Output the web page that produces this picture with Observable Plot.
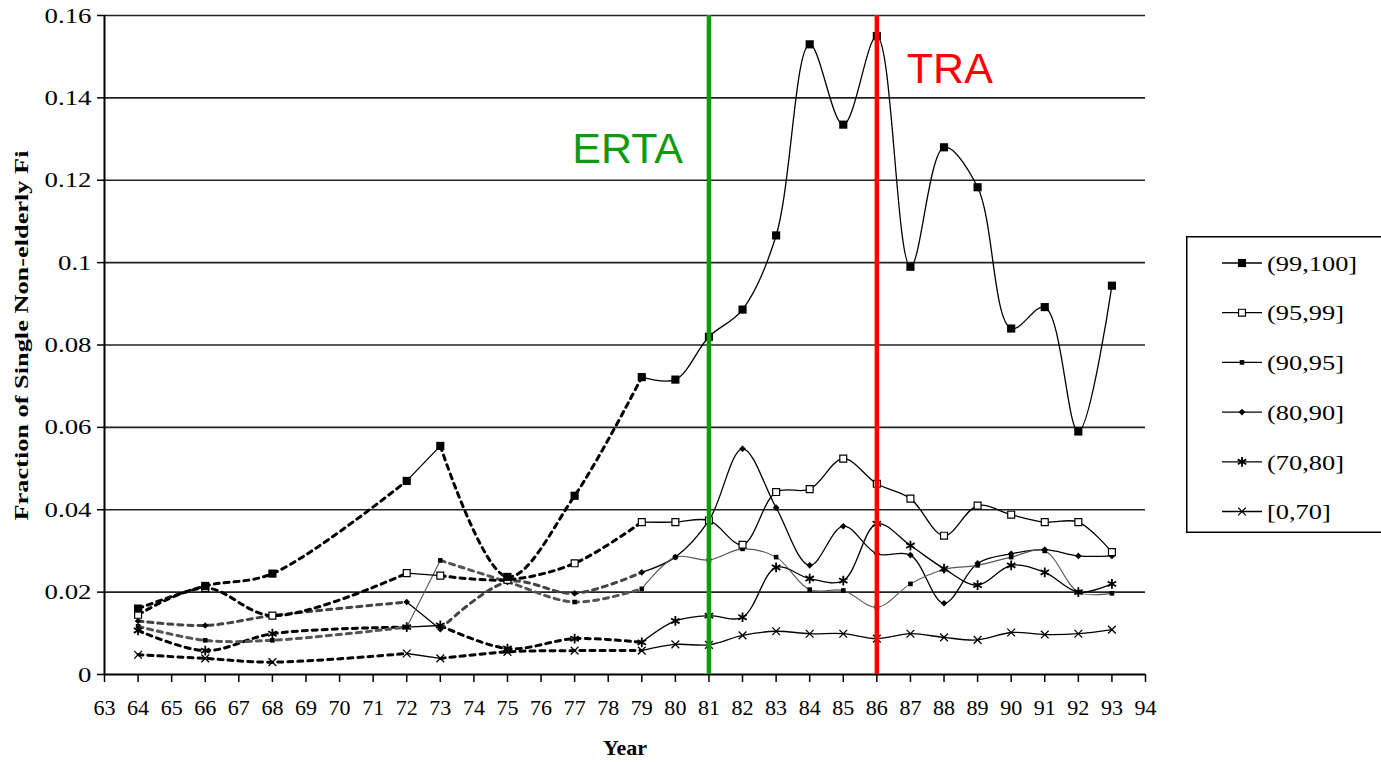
<!DOCTYPE html>
<html><head><meta charset="utf-8">
<script src="https://cdn.jsdelivr.net/npm/d3@7"></script>
<script src="https://cdn.jsdelivr.net/npm/@observablehq/plot@0.6"></script>
<style>
html,body{margin:0;padding:0;background:#fff;}
#wrap{position:relative;width:1381px;height:762px;overflow:hidden;}
#legend{position:absolute;left:1186px;top:236px;}
</style></head><body><div id="wrap"><div id="chart"></div><div id="legend"></div></div>
<script>
// ---------- data ----------
const years = [64,66,68,72,73,75,77,79,80,81,82,83,84,85,86,87,88,89,90,91,92,93];
const seriesNames = ["(99,100]","(95,99]","(90,95]","(80,90]","(70,80]","[0,70]"];
const s99_100 = [0.016,0.0215,0.0245,0.047,0.0555,0.0237,0.0434,0.0722,0.0716,0.082,0.0886,0.1066,0.153,0.1335,0.155,0.099,0.128,0.1183,0.084,0.0892,0.059,0.0944];
const s95_99  = [0.0145,0.021,0.0143,0.0246,0.024,0.023,0.027,0.037,0.037,0.0374,0.0315,0.0443,0.045,0.0524,0.0463,0.0427,0.0337,0.041,0.0388,0.037,0.037,0.0297];
const s90_95  = [0.0117,0.0083,0.0083,0.0115,0.0277,0.0225,0.0176,0.0208,0.0285,0.0278,0.0305,0.0285,0.0206,0.0204,0.0163,0.022,0.0255,0.0265,0.0285,0.030,0.020,0.0197];
const s80_90  = [0.013,0.0119,0.0143,0.0176,0.011,0.0225,0.0197,0.0248,0.0285,0.0374,0.0548,0.0405,0.0265,0.036,0.0293,0.029,0.0173,0.027,0.0293,0.0303,0.0288,0.0288];
const s70_80  = [0.0107,0.0058,0.0099,0.0115,0.0119,0.0063,0.0087,0.0078,0.013,0.0143,0.0139,0.026,0.0233,0.0228,0.0366,0.0313,0.0257,0.0217,0.0265,0.0248,0.020,0.022];
const s0_70   = [0.0048,0.0039,0.003,0.0051,0.0039,0.0055,0.0058,0.0058,0.0073,0.0072,0.0095,0.0105,0.0099,0.0099,0.0087,0.0099,0.009,0.0084,0.0102,0.0097,0.0099,0.0109];
const seriesValues = [s99_100,s95_99,s90_95,s80_90,s70_80,s0_70];
// year ranges drawn dashed (gaps in the annual data) / solid
const segmentStarts = [64,72,73,79];
const segmentEnds   = [72,73,79,93];
const segmentDashed = [true,false,true,false];
const xTicks = d3.range(63,95);
const yTicks = [0,0.02,0.04,0.06,0.08,0.1,0.12,0.14,0.16];
const annLabels = ["ERTA","TRA"];
const annYears  = [81,86];
const annValues = [0.1243,0.1437];
const yLabel = "Fraction of Single Non-elderly Fi";
const xLabel = "Year";

// ---------- styles ----------
const SERIF = "'Liberation Serif', 'Times New Roman', serif";
const SANS = "'Liberation Sans', Arial, sans-serif";
const GREEN = "#109a10", RED = "#ff0000";
const style = {
  "(99,100]": {symbol:"square",  r:4.6, fill:"#000", stroke:"none", w:0, line:"#000", dash:"#000"},
  "(95,99]":  {symbol:"square",  r:3.9, fill:"#fff", stroke:"#000", w:1.2, line:"#000", dash:"#000"},
  "(90,95]":  {symbol:"square",  r:2.6, fill:"#000", stroke:"none", w:0, line:"#555", dash:"#555"},
  "(80,90]":  {symbol:"diamond2",r:3.0, fill:"#000", stroke:"none", w:0, line:"#000", dash:"#444"},
  "(70,80]":  {symbol:"asterisk",r:4.6, fill:"none", stroke:"#000", w:1.8, line:"#000", dash:"#000"},
  "[0,70]":   {symbol:"times",   r:3.6, fill:"none", stroke:"#000", w:1.3, line:"#000", dash:"#000"}
};

// ---------- tables ----------
const rows = [];
seriesNames.forEach((name,i)=>years.forEach((yr,j)=>rows.push({series:name, year:yr, value:seriesValues[i][j]})));
const segRows = [];
rows.forEach(r=>segmentStarts.forEach((a,k)=>{
  if (r.year>=a && r.year<=segmentEnds[k]) segRows.push({...r, seg:r.series+"|"+k, dashed:segmentDashed[k]});
}));
const ann = annLabels.map((t,i)=>({label:t, year:annYears[i], value:annValues[i]}));

const lineMarks = [];
const dotMarks = [];
seriesNames.slice().reverse().forEach(name=>{
  const s = style[name];
  lineMarks.push(Plot.line(segRows.filter(d=>d.series===name && d.dashed),
    {x:"year", y:"value", z:"seg", curve:"catmull-rom", stroke:s.dash, strokeWidth:3, strokeDasharray:"5,5"}));
  lineMarks.push(Plot.line(segRows.filter(d=>d.series===name && !d.dashed),
    {x:"year", y:"value", z:"seg", curve:"catmull-rom", stroke:s.line, strokeWidth:name==="(90,95]"?1.1:1.3}));
  dotMarks.push(Plot.dot(rows.filter(d=>d.series===name),
    {x:"year", y:"value", symbol:()=>s.symbol, r:s.r, fill:s.fill, stroke:s.stroke, strokeWidth:s.w}));
});

const chart = Plot.plot({
  width:1381, height:762,
  marginLeft:104, marginRight:236, marginTop:15, marginBottom:88,
  x:{domain:[63,94]},
  y:{domain:[0,0.16]},
  symbol:{type:"identity"},
  style:{fontFamily:SERIF, fontSize:"20px", color:"#000", background:"#fff", overflow:"visible"},
  marks:[
    Plot.ruleY(yTicks.filter(d=>d>0), {stroke:"#222", strokeWidth:1.6}),
    Plot.axisY({ticks:yTicks, tickSize:7, tickPadding:6, tickFormat:d=>String(d), fontSize:22, fontFamily:SERIF, label:null, strokeWidth:1.5}),
    Plot.axisX({ticks:xTicks, tickSize:8, tickPadding:18, tickFormat:d=>String(d), fontSize:21, fontFamily:SERIF, label:null, strokeWidth:1.5}),
    Plot.ruleX([63], {stroke:"#000", strokeWidth:2}),
    Plot.ruleY([0], {stroke:"#000", strokeWidth:2}),
    ...lineMarks,
    ...dotMarks,
    Plot.ruleX([81], {stroke:GREEN, strokeWidth:4.5}),
    Plot.ruleX([86], {stroke:RED, strokeWidth:4.5}),
    Plot.text(ann.filter(d=>d.label==="ERTA"), {x:"year", y:"value", text:"label", fill:GREEN, dx:-26, textAnchor:"end", lineAnchor:"bottom", fontSize:43, fontFamily:SANS}),
    Plot.text(ann.filter(d=>d.label==="TRA"), {x:"year", y:"value", text:"label", fill:RED, dx:30, textAnchor:"start", lineAnchor:"bottom", fontSize:43, fontFamily:SANS}),
    Plot.text([yLabel], {frameAnchor:"bottom-left", dx:-82, dy:-154, rotate:-90, textAnchor:"start", lineAnchor:"middle", text:d=>d, fontSize:18, fontWeight:"bold", fontFamily:SERIF}),
    Plot.text([xLabel], {frameAnchor:"bottom", dy:80, text:d=>d, fontSize:22, fontWeight:"bold", fontFamily:SERIF})
  ]
});
document.getElementById("chart").appendChild(chart);

// horizontal stretch of text about its anchor point
function stretch(el, sx){
  const x = el.getAttribute("x");
  if (x !== null && !isNaN(+x)) el.setAttribute("x", (+x)/sx);
  const t = el.getAttribute("transform") || "";
  el.setAttribute("transform", `${t} scale(${sx},1)`);
}
chart.querySelectorAll('g[aria-label="y-axis tick label"] text').forEach(t=>stretch(t,1.22));
chart.querySelectorAll('g[aria-label="x-axis tick label"] text').forEach(t=>stretch(t,1.05));
chart.querySelectorAll("text").forEach(t=>{
  if (t.textContent===yLabel){ t.setAttribute("textLength","370"); t.setAttribute("lengthAdjust","spacingAndGlyphs"); }
});

// ---------- legend ----------
const symMap = {square:d3.symbolSquare, diamond2:d3.symbolDiamond2, asterisk:d3.symbolAsterisk, times:d3.symbolTimes};
const lg = d3.select("#legend").append("svg").attr("width",195).attr("height",297);
lg.append("rect").attr("x",0.75).attr("y",0.75).attr("width",196).attr("height",295.5)
  .attr("fill","#fff").attr("stroke","#000").attr("stroke-width",1.5);
seriesNames.forEach((name,i)=>{
  const s = style[name];
  const cy = 27 + i*49.7;
  const g = lg.append("g").attr("transform",`translate(0,${cy})`);
  g.append("line").attr("x1",36).attr("x2",76).attr("y1",0).attr("y2",0).attr("stroke","#000").attr("stroke-width",1.3);
  g.append("path").attr("transform","translate(56,0)")
    .attr("d", d3.symbol(symMap[s.symbol], Math.PI*s.r*s.r)())
    .attr("fill",s.fill).attr("stroke",s.stroke==="none"?null:s.stroke).attr("stroke-width",s.w);
  g.append("text").attr("transform","translate(81,0) scale(1.2,1)").attr("dy","0.35em")
    .attr("font-family",SERIF).attr("font-size",22).text(name);
});
</script></body></html>
